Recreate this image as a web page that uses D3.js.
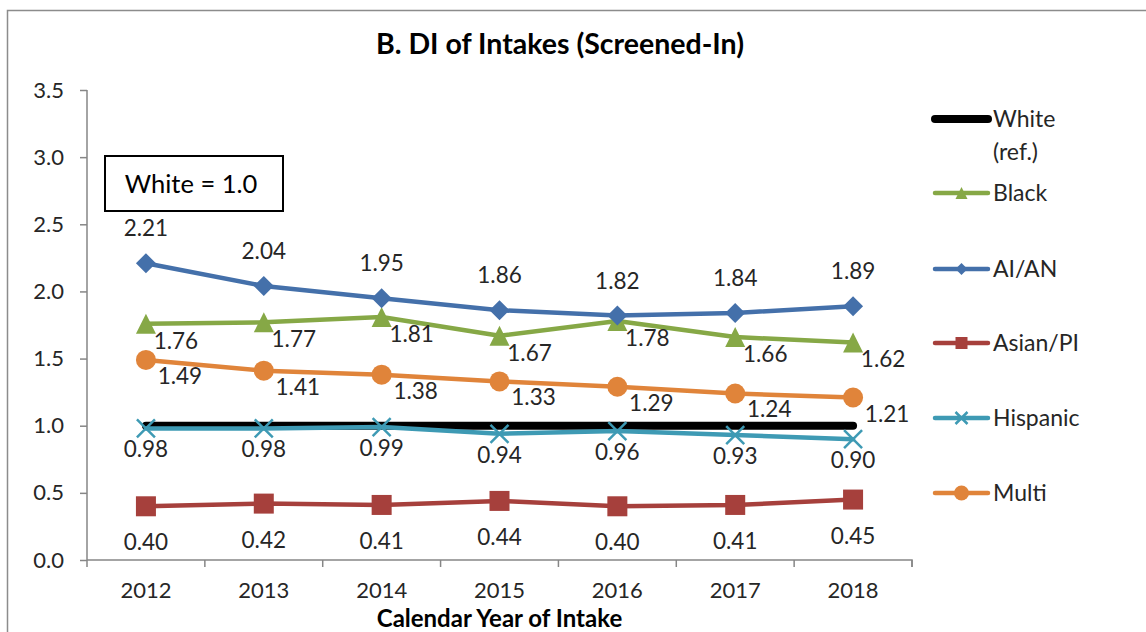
<!DOCTYPE html>
<html>
<head>
<meta charset="utf-8">
<script src="https://cdn.jsdelivr.net/npm/d3@7"></script>
<style>
  html, body { margin: 0; padding: 0; background: #fff; }
  svg text { font-family: Lato, "Open Sans", sans-serif; fill: #262626; }
</style>
</head>
<body>
<div id="chart"></div>
<script>
// categories
var years = ["2012", "2013", "2014", "2015", "2016", "2017", "2018"];
var yTicks = [0, 0.5, 1.0, 1.5, 2.0, 2.5, 3.0, 3.5];

// series values (disproportionality index, white = 1.0)
var seriesNames = ["White\n(ref.)", "Black", "AI/AN", "Asian/PI", "Hispanic", "Multi"];
var white    = [1.0, 1.0, 1.0, 1.0, 1.0, 1.0, 1.0];
var black    = [1.76, 1.77, 1.81, 1.67, 1.78, 1.66, 1.62];
var aian     = [2.21, 2.04, 1.95, 1.86, 1.82, 1.84, 1.89];
var asianPI  = [0.40, 0.42, 0.41, 0.44, 0.40, 0.41, 0.45];
var hispanic = [0.98, 0.98, 0.99, 0.94, 0.96, 0.93, 0.90];
var multi    = [1.49, 1.41, 1.38, 1.33, 1.29, 1.24, 1.21];

var chartTitle = "B. DI of Intakes (Screened-In)";
var xTitle = "Calendar Year of Intake";
var noteText = "White = 1.0";

/** Layout **/
var width = 1146, height = 632;
var plot = {left: 87, right: 912, top: 90, bottom: 560};

// per series style : color, marker, label placement
var styles = [
  {color: "#000000", marker: null,       lw: 8,   label: null},
  {color: "#86a846", marker: "triangle", lw: 4.5, label: {dx: 30, dy: 25, anchor: "middle"}},
  {color: "#4470aa", marker: "diamond",  lw: 4.5, label: {dx: 0,  dy: -27, anchor: "middle"}},
  {color: "#a6403c", marker: "square",   lw: 4.5, label: {dx: 0,  dy: 44, anchor: "middle"}},
  {color: "#3e9ab4", marker: "cross",    lw: 4.5, label: {dx: 0,  dy: 29, anchor: "middle"}},
  {color: "#e0843a", marker: "circle",   lw: 4.5, label: {dx: 34, dy: 24, anchor: "middle"}}
];
var allSeries = [white, black, aian, asianPI, hispanic, multi];

var svg = d3.select("#chart").append("svg")
  .attr("width", width).attr("height", height);

// outer frame
svg.append("rect")
  .attr("x", 7.5).attr("y", 10.5)
  .attr("width", 1160).attr("height", 640)
  .attr("fill", "none").attr("stroke", "#8c8c8c").attr("stroke-width", 1.5);

var x = d3.scaleBand().domain(years).range([plot.left, plot.right]);
var y = d3.scaleLinear().domain([0, 3.5]).range([plot.bottom, plot.top]);
var cx = function (d, i) { return x(years[i]) + x.bandwidth() / 2; };

// title
svg.append("text")
  .attr("x", 560).attr("y", 54)
  .attr("text-anchor", "middle")
  .style("font-size", "28.5px").style("font-weight", "bold")
  .style("fill", "#000")
  .text(chartTitle);

// y axis
var yAxis = svg.append("g")
  .attr("transform", "translate(" + plot.left + ",0)")
  .call(d3.axisLeft(y).tickValues(yTicks).tickFormat(d3.format(".1f")).tickSize(7).tickPadding(16));
// x axis, ticks between categories
var xAxis = svg.append("g")
  .attr("transform", "translate(0," + plot.bottom + ")")
  .call(d3.axisBottom(x).tickSize(0).tickPadding(22));
xAxis.selectAll(".tick").append("line")
  .attr("x1", x.bandwidth() / 2).attr("x2", x.bandwidth() / 2)
  .attr("y1", 0).attr("y2", 7);
xAxis.append("line")
  .attr("x1", plot.left).attr("x2", plot.left).attr("y1", 0).attr("y2", 7);

[xAxis, yAxis].forEach(function (g) {
  g.select(".domain").attr("stroke", "#868686").attr("stroke-width", 1.5);
  g.selectAll("line").attr("stroke", "#868686").attr("stroke-width", 1.5);
  g.selectAll("text").style("font-size", "22px").style("fill", "#262626")
    .style("font-family", "Lato, 'Open Sans', sans-serif");
});
// plain axis line without outer ticks
yAxis.select(".domain").attr("d", "M0," + plot.top + "V" + plot.bottom);
xAxis.select(".domain").attr("d", "M" + plot.left + ",0H" + plot.right + "V7");

// x axis title
svg.append("text")
  .attr("x", (plot.left + plot.right) / 2).attr("y", 627)
  .attr("text-anchor", "middle")
  .style("font-size", "24px").style("font-weight", "bold")
  .style("fill", "#000")
  .text(xTitle);

// note box
svg.append("rect")
  .attr("x", 105).attr("y", 156).attr("width", 178).attr("height", 55)
  .attr("fill", "#fff").attr("stroke", "#000").attr("stroke-width", 2);
svg.append("text")
  .attr("x", 191).attr("y", 193)
  .attr("text-anchor", "middle")
  .style("font-size", "25.5px").style("fill", "#000")
  .text(noteText);

function drawMarker(g, type, color, s) {
  if (type === "circle") {
    g.append("circle").attr("r", s / 2).attr("fill", color);
  } else if (type === "square") {
    g.append("rect").attr("x", -s / 2).attr("y", -s / 2)
      .attr("width", s).attr("height", s).attr("fill", color);
  } else if (type === "diamond") {
    g.append("path").attr("d", "M0," + (-s / 2) + "L" + (s / 2) + ",0L0," + (s / 2) + "L" + (-s / 2) + ",0Z")
      .attr("fill", color);
  } else if (type === "triangle") {
    g.append("path").attr("d", "M0," + (-s / 2) + "L" + (s / 2) + "," + (s / 2) + "L" + (-s / 2) + "," + (s / 2) + "Z")
      .attr("fill", color);
  } else if (type === "cross") {
    var h = s / 2;
    g.append("path").attr("d", "M" + (-h) + "," + (-h) + "L" + h + "," + h + "M" + h + "," + (-h) + "L" + (-h) + "," + h)
      .attr("stroke", color).attr("stroke-width", 2.5).attr("fill", "none");
  }
}

var line = d3.line().x(cx).y(function (d) { return y(d); });

// series
allSeries.forEach(function (vals, k) {
  var st = styles[k];
  var g = svg.append("g").attr("class", "series");
  g.append("path").datum(vals)
    .attr("d", line)
    .attr("fill", "none").attr("stroke", st.color)
    .attr("stroke-width", st.lw)
    .attr("stroke-linecap", "round").attr("stroke-linejoin", "round");
  if (st.marker) {
    vals.forEach(function (v, i) {
      var m = g.append("g").attr("transform", "translate(" + cx(v, i) + "," + y(v) + ")");
      drawMarker(m, st.marker, st.color, st.marker === "cross" ? 18 : 20);
    });
  }
});

// data labels
allSeries.forEach(function (vals, k) {
  var st = styles[k];
  if (!st.label) return;
  svg.append("g").selectAll("text").data(vals).enter().append("text")
    .attr("x", function (d, i) { return cx(d, i) + st.label.dx; })
    .attr("y", function (d) { return y(d) + st.label.dy; })
    .attr("text-anchor", st.label.anchor)
    .style("font-size", "22.5px")
    .text(function (d) { return d3.format(".2f")(d); });
});

// legend
var legend = svg.append("g").attr("transform", "translate(935,0)");
var legendY = [119, 193, 269, 343, 418, 493];
seriesNames.forEach(function (name, k) {
  var st = styles[k];
  var item = legend.append("g").attr("transform", "translate(0," + legendY[k] + ")");
  item.append("line").attr("x1", 0).attr("x2", 53)
    .attr("stroke", st.color).attr("stroke-width", k === 0 ? 8 : 4.5)
    .attr("stroke-linecap", "round");
  if (st.marker) {
    var m = item.append("g").attr("transform", "translate(26.5,0)");
    drawMarker(m, st.marker, st.color, st.marker === "circle" ? 15 : 12);
  }
  var t = item.append("text").attr("x", 58).attr("y", 8).style("font-size", "23px");
  name.split("\n").forEach(function (part, j) {
    t.append("tspan").attr("x", 58).attr("dy", j === 0 ? 0 : 33).text(part);
  });
});
</script>
</body>
</html>
